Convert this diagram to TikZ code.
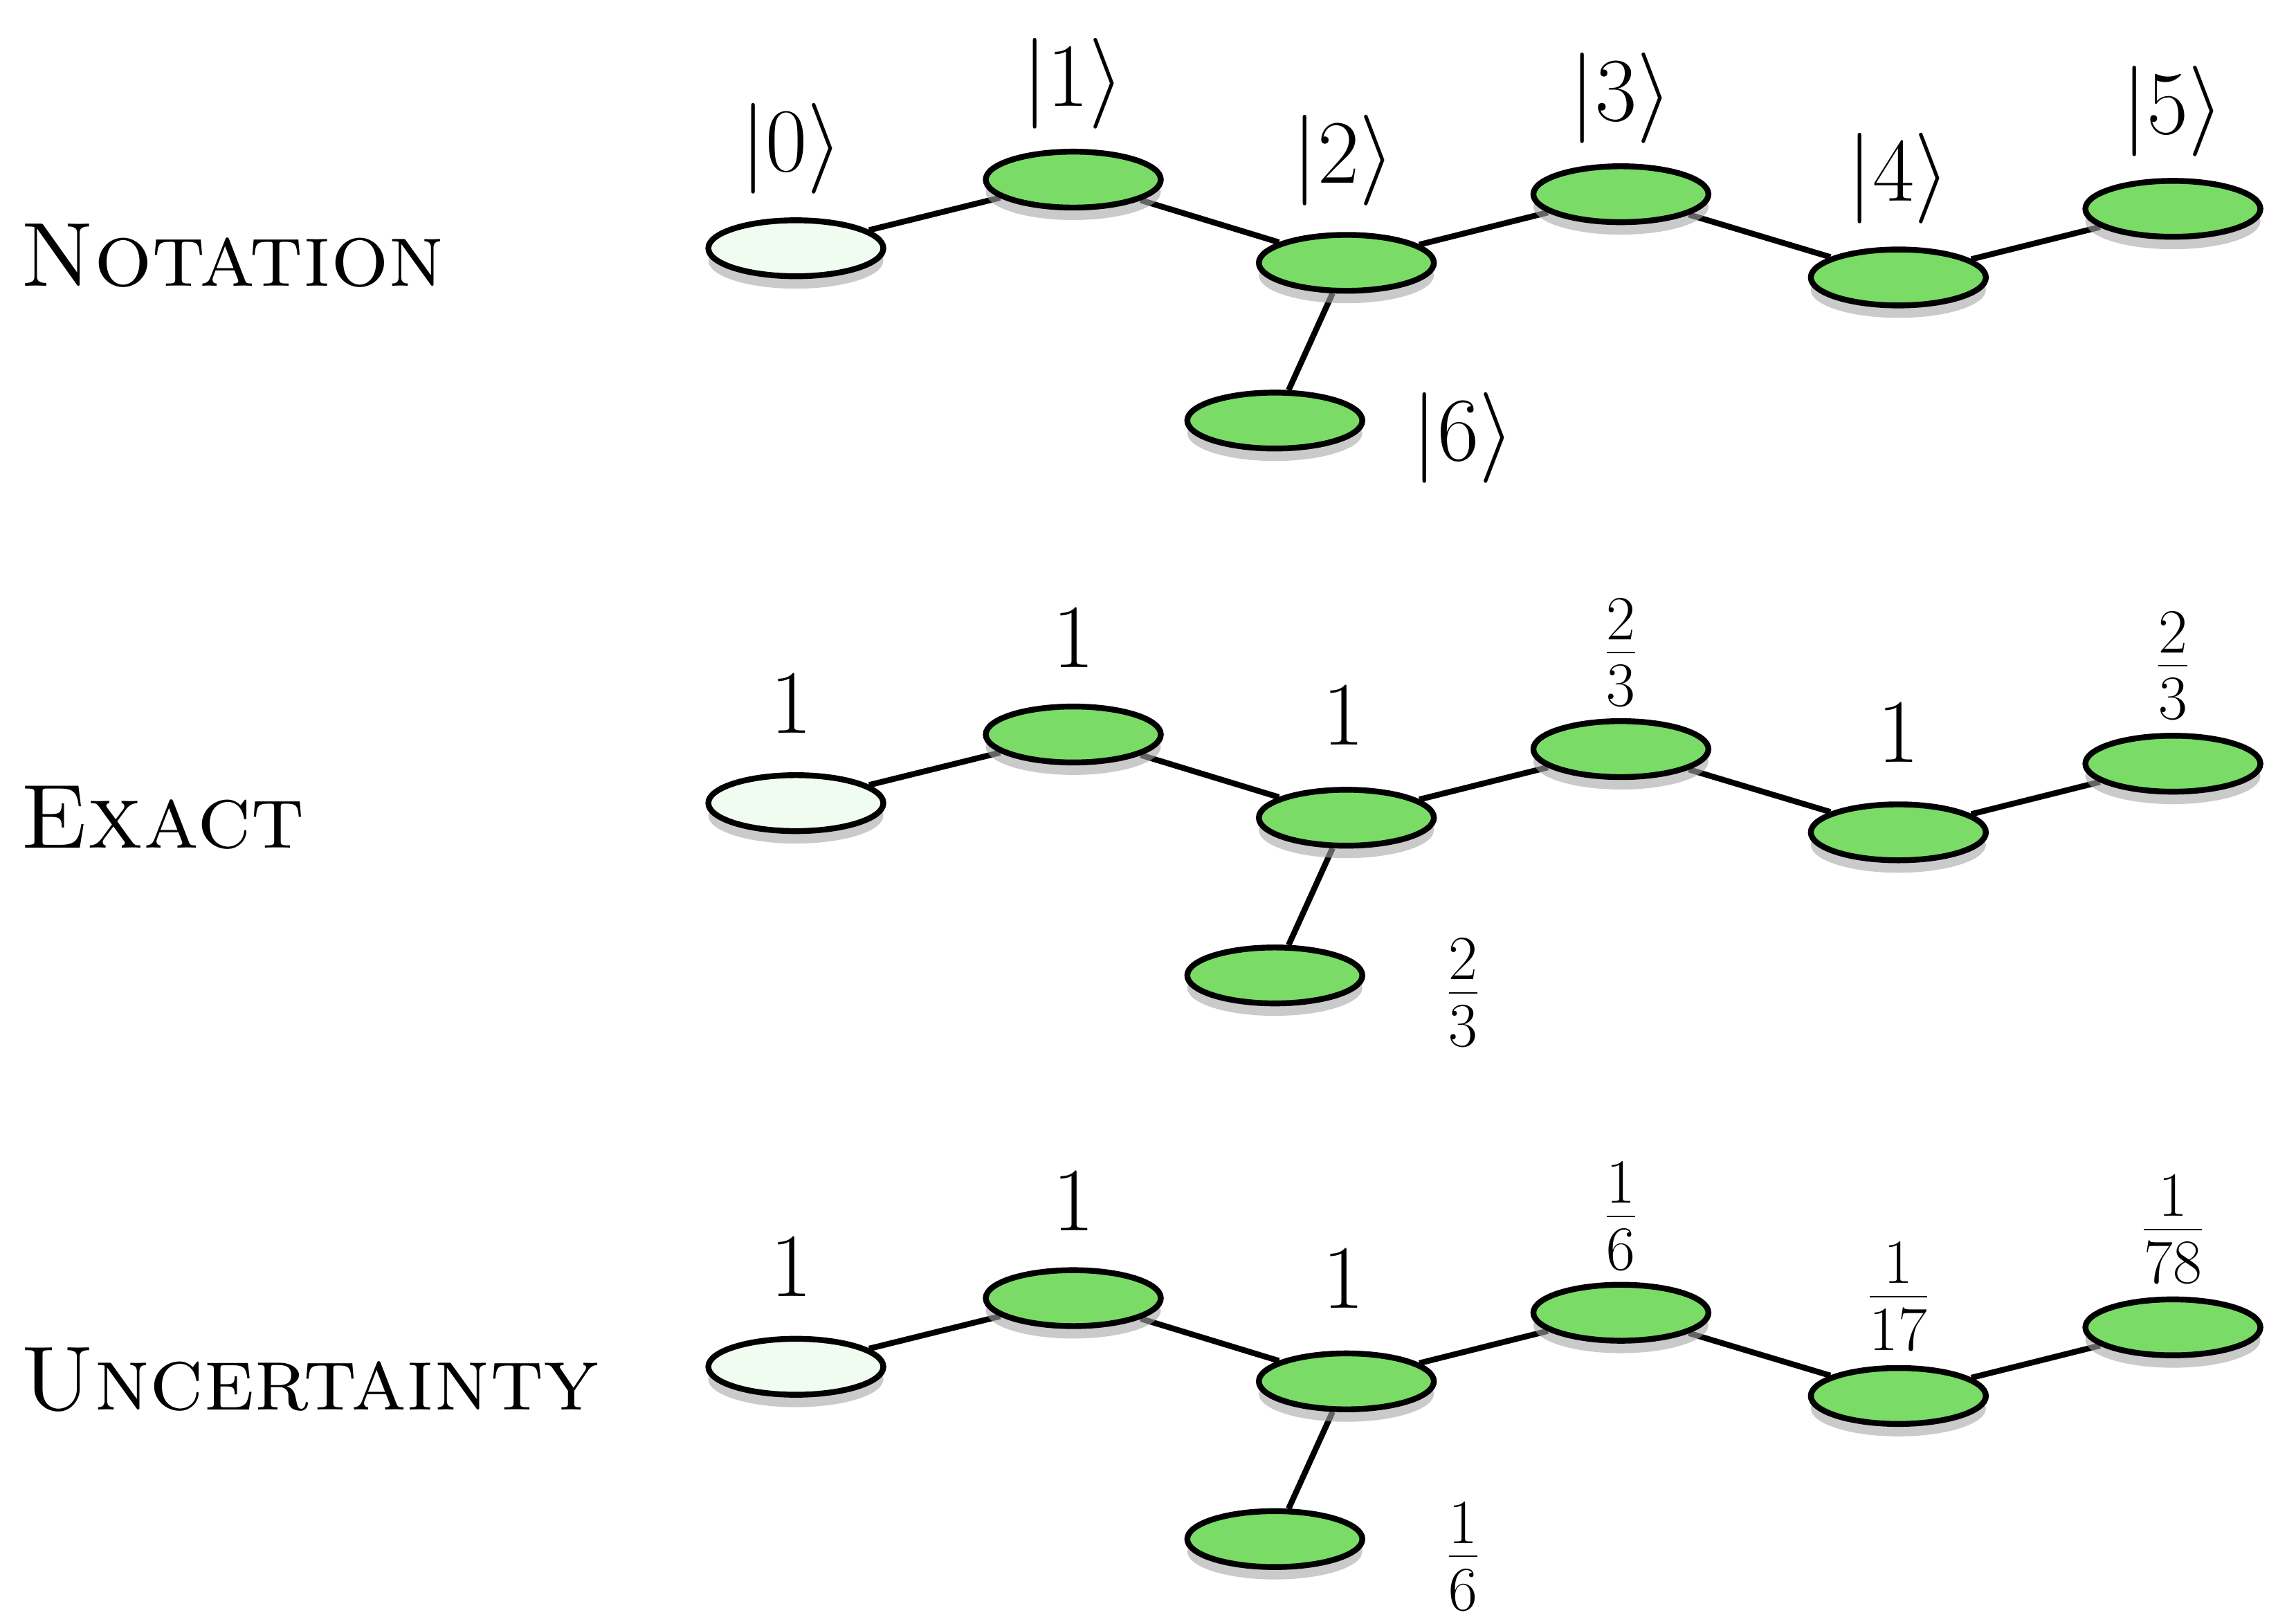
\documentclass[tikz,border=0pt]{standalone}
\usetikzlibrary{shadows,backgrounds,shapes.geometric}
\definecolor{gfill}{RGB}{122,220,102}
\definecolor{lfill}{RGB}{240,252,240}
\tikzset{
  st/.style={ellipse,draw=black,line width=1.6pt,minimum width=1.69cm,minimum height=0.54cm,inner sep=0pt,fill=gfill,
    drop shadow={shadow xshift=0pt,shadow yshift=-0.12cm,fill=black!35,opacity=0.6}},
  st0/.style={st,fill=lfill},
  lab/.style={font=\fontsize{25}{30}\selectfont},
  ttl/.style={font=\fontsize{25}{30}\selectfont\scshape,anchor=west},
  ed/.style={line width=1.6pt}
}
\newcommand\tzrow[9]{%
\begin{scope}[shift={(0,#1)}]
\node[st0] (#2a) at (545,170) {};
\node[st] (#2b) at (735,123) {};
\node[st] (#2c) at (922,180) {};
\node[st] (#2d) at (1110,133) {};
\node[st] (#2e) at (1300,190) {};
\node[st] (#2f) at (1488,143) {};
\node[st] (#2g) at (873,288) {};
\begin{scope}[on background layer]
\draw[ed] (#2a)--(#2b)--(#2c)--(#2d)--(#2e)--(#2f);
\draw[ed] (#2c)--(#2g);
\end{scope}
\node[lab] (#2la) at (542,102) {#3};
\node[lab] (#2lb) at (735,57) {#4};
\node[lab] (#2lc) at (920,110) {#5};
\node[lab] (#2ld) at (1110,67) {#6};
\node[lab] (#2le) at (1300,122) {#7};
\node[lab] (#2lf) at (1488,76) {#8};
\node[lab] (#2lg) at (1002,300) {#9};
\end{scope}}
\begin{document}
\begin{tikzpicture}[x=0.0141cm,y=-0.0141cm]
\useasboundingbox (0,0) rectangle (1560,1112);
\tzrow{0}{p}{$|0\rangle$}{$|1\rangle$}{$|2\rangle$}{$|3\rangle$}{$|4\rangle$}{$|5\rangle$}{$|6\rangle$}
\tzrow{380}{q}{$1$}{$1$}{$1$}{$\frac{2}{3}$}{$1$}{$\frac{2}{3}$}{$\frac{2}{3}$}
\tzrow{766}{r}{$1$}{$1$}{$1$}{$\frac{1}{6}$}{$\frac{1}{17}$}{$\frac{1}{78}$}{$\frac{1}{6}$}
\node[ttl] (t1) at (5,175) {Notation};
\node[ttl] (t2) at (5,560) {Exact};
\node[ttl] (t3) at (5,945) {Uncertainty};
\end{tikzpicture}
\end{document}
